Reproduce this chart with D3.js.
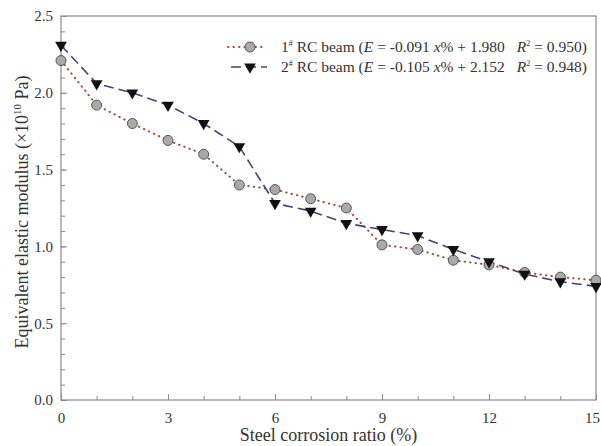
<!DOCTYPE html>
<html>
<head>
<meta charset="utf-8">
<script src="https://cdn.jsdelivr.net/npm/d3@7"></script>
<style>
  body { margin: 0; background: #fff; }
  text { font-family: "Liberation Serif", "Times New Roman", serif; fill: #333; }
</style>
</head>
<body>
<div id="container"></div>
<script>
// ******* data *******
var ratio = [0, 1, 2, 3, 4, 5, 6, 7, 8, 9, 10, 11, 12, 13, 14, 15];
var beam1 = [2.21, 1.92, 1.80, 1.69, 1.60, 1.40, 1.37, 1.31, 1.25, 1.01, 0.98, 0.91, 0.88, 0.83, 0.80, 0.78];
var beam2 = [2.31, 2.06, 2.00, 1.92, 1.80, 1.65, 1.28, 1.23, 1.15, 1.11, 1.07, 0.98, 0.90, 0.82, 0.77, 0.74];
var xTicks = [0, 3, 6, 9, 12, 15];
var yTicks = [0.0, 0.5, 1.0, 1.5, 2.0, 2.5];

var width = 601, height = 446;
var mLeft = 61, mRight = 596, mTop = 16, mBottom = 400; // plot box edges

var svg = d3.select("#container").append("svg")
  .attr("width", width)
  .attr("height", height);

var x = d3.scaleLinear().domain([0, 15]).range([mLeft, mRight]);
var y = d3.scaleLinear().domain([0, 2.5]).range([mBottom, mTop]);

var axisColor = "#8a8a8a";

// frame
svg.append("rect")
  .attr("x", mLeft).attr("y", mTop)
  .attr("width", mRight - mLeft).attr("height", mBottom - mTop)
  .attr("fill", "none").attr("stroke", axisColor).attr("stroke-width", 1.2);

// minor ticks (inward)
var xMinor = d3.range(0, 15.01, 1);
var yMinor = d3.range(0, 2.501, 0.1);

svg.append("g")
  .attr("transform", "translate(0," + mBottom + ")")
  .call(d3.axisBottom(x).tickValues(xMinor).tickSize(-4).tickFormat(""))
  .call(function(g) { g.select(".domain").remove(); g.selectAll("line").attr("stroke", axisColor); });

svg.append("g")
  .attr("transform", "translate(" + mLeft + ",0)")
  .call(d3.axisLeft(y).tickValues(yMinor).tickSize(-4).tickFormat(""))
  .call(function(g) { g.select(".domain").remove(); g.selectAll("line").attr("stroke", axisColor); });

// major ticks + labels
svg.append("g")
  .attr("transform", "translate(0," + mBottom + ")")
  .call(d3.axisBottom(x).tickValues(xTicks).tickSize(-6).tickPadding(12).tickFormat(d3.format("d")))
  .call(function(g) {
    g.select(".domain").remove();
    g.selectAll("line").attr("stroke", axisColor);
    g.selectAll("text").style("font-size", "15px").style("font-family", "Liberation Serif").attr("fill", "#333");
    g.selectAll("text").filter(function(d) { return d == 15; }).attr("dx", -4);
  });

svg.append("g")
  .attr("transform", "translate(" + mLeft + ",0)")
  .call(d3.axisLeft(y).tickValues(yTicks).tickSize(-6).tickPadding(8).tickFormat(d3.format(".1f")))
  .call(function(g) {
    g.select(".domain").remove();
    g.selectAll("line").attr("stroke", axisColor);
    g.selectAll("text").style("font-size", "15px").style("font-family", "Liberation Serif").attr("fill", "#333");
  });

// lines
var line1 = d3.line().x(function(d, i) { return x(ratio[i]); }).y(function(d) { return y(d); });

svg.append("path")
  .datum(beam1)
  .attr("d", line1)
  .attr("fill", "none")
  .attr("stroke", "#a0503c")
  .attr("stroke-width", 2)
  .attr("stroke-dasharray", "0.5,5")
  .attr("stroke-linecap", "round");

svg.append("path")
  .datum(beam2)
  .attr("d", line1)
  .attr("fill", "none")
  .attr("stroke", "#45407e")
  .attr("stroke-width", 1.6)
  .attr("stroke-dasharray", "10,5");

// markers
svg.selectAll(".c1").data(beam1).enter().append("circle")
  .attr("class", "c1")
  .attr("cx", function(d, i) { return x(ratio[i]); })
  .attr("cy", function(d) { return y(d); })
  .attr("r", 5)
  .attr("fill", "#a9a9a9")
  .attr("stroke", "#555")
  .attr("stroke-width", 1);

var tri = d3.symbol().type(d3.symbolTriangle).size(60);
svg.selectAll(".t2").data(beam2).enter().append("path")
  .attr("class", "t2")
  .attr("d", tri)
  .attr("transform", function(d, i) { return "translate(" + x(ratio[i]) + "," + y(d) + ") rotate(180)"; })
  .attr("fill", "#111");

// legend
var legend = [
  { n: "1", a: "-0.091", op: "+", b: "1.980", r: "0.950", type: "c" },
  { n: "2", a: "-0.105", op: "+", b: "2.152", r: "0.948", type: "t" }
];
legend.forEach(function(l, i) {
  var ly = 47 + i * 20;
  var g = svg.append("g");
  if (l.type == "c") {
    g.append("line").attr("x1", 228).attr("x2", 266).attr("y1", ly).attr("y2", ly)
      .attr("stroke", "#a0503c").attr("stroke-width", 2).attr("stroke-dasharray", "0.5,5").attr("stroke-linecap", "round");
    g.append("circle").attr("cx", 250).attr("cy", ly).attr("r", 5)
      .attr("fill", "#a9a9a9").attr("stroke", "#555");
  } else {
    g.append("line").attr("x1", 231).attr("x2", 267).attr("y1", ly).attr("y2", ly)
      .attr("stroke", "#45407e").attr("stroke-width", 1.6).attr("stroke-dasharray", "10,5");
    g.append("path").attr("d", tri).attr("transform", "translate(250," + ly + ") rotate(180)").attr("fill", "#111");
  }
  var t = g.append("text").attr("x", 281).attr("y", ly + 5).style("font-size", "15.5px");
  t.append("tspan").text(l.n);
  t.append("tspan").attr("dy", -6).style("font-size", "8px").text("#");
  t.append("tspan").attr("dy", 6).text(" RC beam (");
  t.append("tspan").style("font-style", "italic").text("E");
  t.append("tspan").text(" = " + l.a + " ");
  t.append("tspan").style("font-style", "italic").text("x");
  t.append("tspan").text("% " + l.op + " " + l.b);
  t.append("tspan").attr("dx", 12).style("font-style", "italic").text("R");
  t.append("tspan").attr("dy", -6).style("font-size", "8px").text("2");
  t.append("tspan").attr("dy", 6).text(" = " + l.r + ")");
});

// axis titles
svg.append("text")
  .attr("x", (mLeft + mRight) / 2)
  .attr("y", 441)
  .attr("text-anchor", "middle")
  .style("font-size", "18px")
  .text("Steel corrosion ratio (%)");

var yt = svg.append("text")
  .attr("text-anchor", "middle")
  .attr("transform", "translate(28," + 212 + ")rotate(-90)")
  .style("font-size", "18px");
yt.append("tspan").text("Equivalent elastic modulus (\u00d710");
yt.append("tspan").attr("dy", -7).style("font-size", "11px").text("10");
yt.append("tspan").attr("dy", 7).text(" Pa)");
</script>
</body>
</html>
